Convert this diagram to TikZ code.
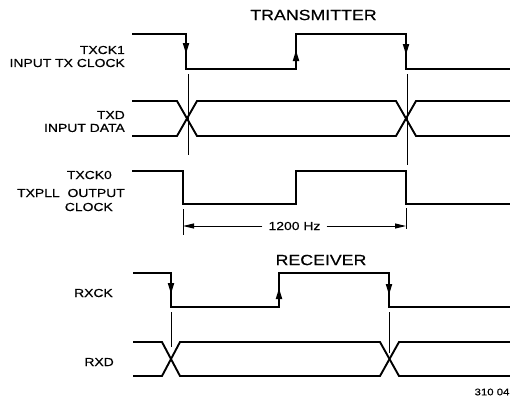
\documentclass[tikz,border=0pt]{standalone}
\usepackage{fontspec}
\usetikzlibrary{arrows.meta}
\newfontfamily\labfont[FakeStretch=1.2,FakeBold=0.5]{Liberation Sans}
\begin{document}
\begin{tikzpicture}[x=1pt,y=-1pt,
  wave/.style={line width=1.9pt, line join=miter},
  thinline/.style={line width=0.8pt},
  edgearrow/.style={-{Triangle[length=11pt,width=6pt]}, line width=1.9pt},
  dimarrow/.style={-{Triangle[length=11pt,width=5pt]}, line width=1pt},
  lab/.style={inner sep=0pt, font=\labfont\fontsize{11.6}{13}\selectfont},
  title/.style={inner sep=0pt, font=\labfont\fontsize{14.8}{17}\selectfont}]
\useasboundingbox (0,0) rectangle (510,397);

% titles
\node[title] (ttx) at (313.5,15) {TRANSMITTER};
\node[title] (trx) at (321,260) {RECEIVER};

% labels
\node[lab, anchor=east] (l1) at (125,50) {TXCK1};
\node[lab, anchor=east] (l2) at (125,63) {INPUT TX CLOCK};
\node[lab, anchor=east] (l3) at (125,115) {TXD};
\node[lab, anchor=east] (l4) at (125,128) {INPUT DATA};
\node[lab, anchor=east] (l5) at (112,175) {TXCK0};
\node[lab, anchor=east] (l6) at (125,193) {TXPLL\hspace{4pt} OUTPUT};
\node[lab, anchor=east] (l7) at (113,207) {CLOCK};
\node[lab, anchor=east] (l8) at (113,293) {RXCK};
\node[lab, anchor=east] (l9) at (114,362) {RXD};
\node[inner sep=0pt, font=\labfont\fontsize{9.5}{11}\selectfont] (fig) at (492,392) {310 04};

% TXCK1
\draw[wave] (132,34) -- (186,34) -- (186,69) -- (296,69) -- (296,34) -- (406,34) -- (406,69) -- (510,69);
\draw[edgearrow] (186,40) -- (186,54);
\draw[edgearrow] (296,64) -- (296,50);
\draw[edgearrow] (406,40) -- (406,55);

% TXD
\draw[wave] (132,101) -- (177,101) -- (197,136) -- (396,136) -- (416,101) -- (510,101);
\draw[wave] (132,136) -- (177,136) -- (197,101) -- (396,101) -- (416,136) -- (510,136);

% TXCK0
\draw[wave] (132,171) -- (183,171) -- (183,204) -- (296,204) -- (296,171) -- (406,171) -- (406,204) -- (510,204);

% thin reference lines
\draw[thinline] (188,74) -- (188,155);
\draw[thinline] (407,74) -- (407,165);

% dimension 1200 Hz
\draw[thinline] (183,209) -- (183,235);
\draw[thinline] (406,208) -- (406,229);
\node[lab, fill=white, inner xsep=6pt] (hz) at (294.5,226) {1200 Hz};
\draw[dimarrow] (hz.west) -- (183,226);
\draw[dimarrow] (hz.east) -- (406,226);

% RXCK
\draw[wave] (133,273) -- (171,273) -- (171,307) -- (279,307) -- (279,273) -- (389,273) -- (389,307) -- (510,307);
\draw[edgearrow] (171,279) -- (171,294);
\draw[edgearrow] (279,303) -- (279,288);
\draw[edgearrow] (389,279) -- (389,295);

\draw[thinline] (171,312) -- (171,347);
\draw[thinline] (389,312) -- (389,353);

% RXD
\draw[wave] (133,342) -- (162,342) -- (180,376) -- (380,376) -- (399,342) -- (510,342);
\draw[wave] (133,376) -- (162,376) -- (180,342) -- (380,342) -- (399,376) -- (510,376);
\end{tikzpicture}
\end{document}
